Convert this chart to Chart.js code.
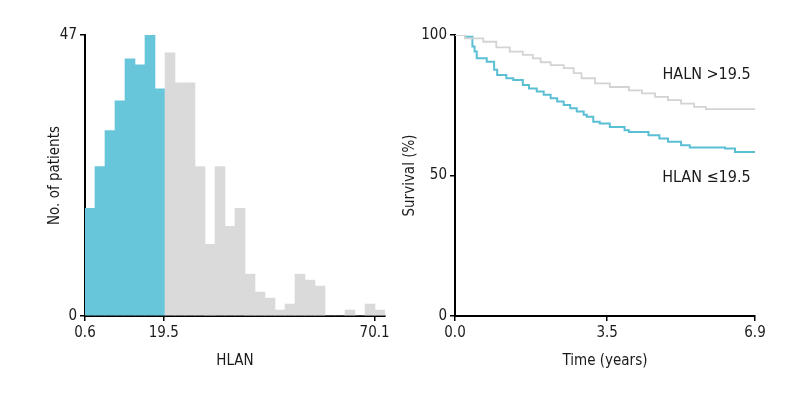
<!DOCTYPE html>
<html>
<head>
<meta charset="utf-8">
<script src="https://cdn.jsdelivr.net/npm/chart.js@4"></script>
<style>
  body { margin: 0; background: #fff; }
  #wrap { position: relative; width: 800px; height: 400px; }
  .box { position: absolute; top: 0; width: 400px; height: 400px; }
</style>
</head>
<body>
<div id="wrap">
  <div class="box" style="left:0"><canvas id="histChart"></canvas></div>
  <div class="box" style="left:400px"><canvas id="survChart"></canvas></div>
</div>
<script>
// histogram of HLAN
const binStart = 0.6;
const binWidth = 2.4;
const hlanCounts = [18, 25, 31, 36, 43, 42, 47, 38, 44, 39, 39, 25, 12, 25, 15, 18, 7, 4, 3, 1, 2, 7, 6, 5, 0, 0, 1, 0, 2, 1];
const lowBins = 8; // bins at or below the 19.5 cutoff
const hlanTicks = [0.6, 19.5, 70.1];
const countTicks = [0, 47];

// survival curves
const highTime = [0, 0.23, 0.65, 0.95, 1.26, 1.56, 1.79, 1.97, 2.2, 2.5, 2.73, 2.91, 3.22, 3.56, 4.0, 4.3, 4.6, 4.9, 5.2, 5.5, 5.77, 6.9];
const highSurv = [100, 98.8, 97.6, 95.6, 94.1, 92.9, 91.7, 90.3, 89.3, 88.2, 86.4, 84.6, 82.8, 81.5, 80.3, 79.2, 78.0, 76.8, 75.6, 74.4, 73.6, 73.6];
const lowTime = [0, 0.23, 0.4, 0.45, 0.5, 0.73, 0.9, 0.97, 1.18, 1.34, 1.56, 1.7, 1.88, 2.04, 2.2, 2.35, 2.5, 2.65, 2.8, 2.96, 3.03, 3.18, 3.33, 3.56, 3.9, 4.0, 4.45, 4.7, 4.9, 5.2, 5.4, 6.21, 6.44, 6.9];
const lowSurv = [100, 99.4, 95.9, 94.1, 91.7, 90.5, 87.6, 85.8, 84.6, 84.0, 82.2, 81.0, 79.9, 78.7, 77.5, 76.3, 75.1, 73.9, 72.8, 71.6, 70.9, 69.1, 68.5, 67.3, 66.1, 65.5, 64.3, 63.2, 62.0, 60.8, 60.0, 59.6, 58.4, 58.4];
const timeTicks = [0, 3.5, 6.9];
const survTicks = [0, 50, 100];

const BLUE = "#67c6d9";
const GREY = "#dadada";
const FONT = "'DejaVu Sans Condensed', 'DejaVu Sans', sans-serif";

Chart.defaults.font.family = FONT;
Chart.defaults.font.size = 15;
Chart.defaults.font.weight = "condensed"; // goes into the canvas font shorthand as font-stretch
Chart.defaults.color = "#1a1a1a";
Chart.defaults.animation = false;

function fixedTicks(values) {
  return scale => { scale.ticks = values.map(v => ({ value: v })); };
}

function axisStyle() {
  return {
    border: { display: true, color: "#000", width: 2 },
    grid: { display: true, offset: false, drawOnChartArea: false, drawTicks: true, tickLength: 5, color: "#000", lineWidth: 1.5 },
    ticks: { padding: 3, autoSkip: false, maxRotation: 0 }
  };
}

const histX = axisStyle();
const histY = axisStyle();
new Chart(document.getElementById("histChart"), {
  type: "bar",
  data: {
    datasets: [{
      data: hlanCounts.map((c, i) => ({ x: binStart + binWidth * (i + 0.5), y: c })),
      backgroundColor: hlanCounts.map((c, i) => i < lowBins ? BLUE : GREY),
      borderWidth: 0,
      barPercentage: 1,
      categoryPercentage: 1
    }]
  },
  options: {
    responsive: true,
    maintainAspectRatio: false,
    layout: { padding: { top: 35, right: 15, bottom: 0, left: 0 } },
    plugins: { legend: { display: false }, tooltip: { enabled: false } },
    scales: {
      x: {
        ...histX,
        type: "linear",
        offset: false,
        min: binStart,
        max: binStart + binWidth * hlanCounts.length,
        afterBuildTicks: fixedTicks(hlanTicks),
        afterFit: s => { s.height = 84; },
        ticks: { ...histX.ticks, callback: v => v.toFixed(1) },
        title: { display: true, text: "HLAN", padding: { top: 0, bottom: 30 } }
      },
      y: {
        ...histY,
        min: 0,
        max: 47,
        afterBuildTicks: fixedTicks(countTicks),
        afterFit: s => { s.width = 85; },
        title: { display: true, text: "No. of patients", padding: { top: 46, bottom: 0 } }
      }
    }
  }
});

const curveLabels = {
  id: "curveLabels",
  afterDatasetsDraw(chart) {
    const { ctx, scales: { x, y } } = chart;
    ctx.save();
    ctx.font = "condensed 16px " + FONT;
    ctx.fillStyle = "#1a1a1a";
    ctx.textAlign = "right";
    ctx.textBaseline = "middle";
    ctx.fillText("HALN >19.5", x.getPixelForValue(6.8), y.getPixelForValue(85.7));
    ctx.fillText("HLAN \u226419.5", x.getPixelForValue(6.8), y.getPixelForValue(49));
    ctx.restore();
  }
};

const survX = axisStyle();
const survY = axisStyle();
new Chart(document.getElementById("survChart"), {
  type: "line",
  data: {
    datasets: [
      {
        data: highTime.map((t, i) => ({ x: t, y: highSurv[i] })),
        borderColor: "#d3d3d3",
        borderWidth: 1.8,
        pointRadius: 0,
        stepped: true
      },
      {
        data: lowTime.map((t, i) => ({ x: t, y: lowSurv[i] })),
        borderColor: "#5bbfd4",
        borderWidth: 2,
        pointRadius: 0,
        stepped: true
      }
    ]
  },
  options: {
    responsive: true,
    maintainAspectRatio: false,
    layout: { padding: { top: 35, right: 45, bottom: 0, left: 0 } },
    plugins: { legend: { display: false }, tooltip: { enabled: false } },
    scales: {
      x: {
        ...survX,
        type: "linear",
        min: 0,
        max: 6.9,
        afterBuildTicks: fixedTicks(timeTicks),
        afterFit: s => { s.height = 84; },
        ticks: { ...survX.ticks, callback: v => v.toFixed(1) },
        title: { display: true, text: "Time (years)", padding: { top: 0, bottom: 30 } }
      },
      y: {
        ...survY,
        min: 0,
        max: 100,
        afterBuildTicks: fixedTicks(survTicks),
        afterFit: s => { s.width = 55; },
        title: { display: true, text: "Survival (%)", padding: { top: 1, bottom: 0 } }
      }
    }
  },
  plugins: [curveLabels]
});
</script>
</body>
</html>
